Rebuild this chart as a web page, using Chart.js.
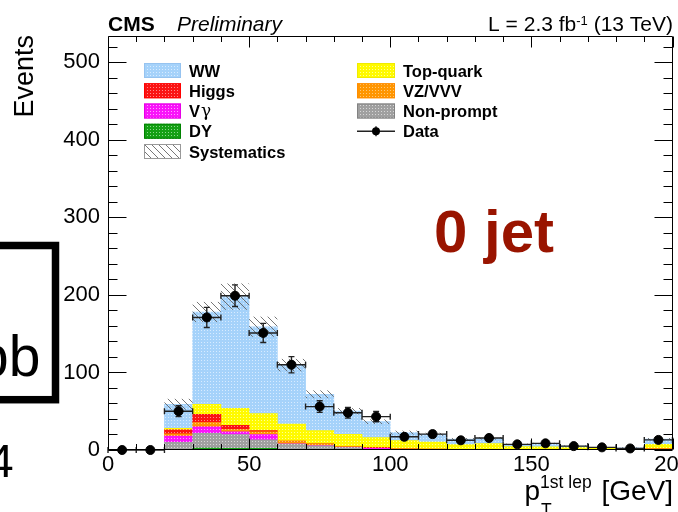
<!DOCTYPE html>
<html><head><meta charset="utf-8">
<script src="https://cdn.jsdelivr.net/npm/chart.js@4.4.0/dist/chart.umd.min.js"></script>
<style>html,body{margin:0;padding:0;background:#fff;} #c{display:block;}</style>
</head><body>
<canvas id="c" width="678" height="512"></canvas>
<script>
// ---------------- data ----------------
const binLow     = [0,10,20,30,40,50,60,70,80,90,100,110,120,130,140,150,160,170,180,190];
const binCenters = [5,15,25,35,45,55,65,75,85,95,105,115,125,135,145,155,165,175,185,195];
const binWidth = 10;
const dyValues     = [0,0,1,2.5,2,2,0.5,0.3,0.2,0.2,0.1,0.1,0,0,0,0,0,0,0,0];
const nonPrompt    = [0,0,9,19,18,11,7,5,3,0.8,0.5,0.4,0.3,0.2,0.2,0.1,0.1,0.1,0.1,0.3];
const vgValues     = [0,0,8,8.5,3.5,7,0.5,0.3,0.3,1,0.3,0.2,0.1,0.1,0.1,0.1,0,0,0,0.5];
const vzValues     = [0,0,3,5.5,3,3.5,3,2,1,0.5,0.3,0.3,0.2,0.2,0.1,0.1,0.1,0.1,0.1,0.3];
const higgsValues  = [0,0,5,10.5,5.3,1.5,0.5,0.3,0.2,1,0.2,0.2,0.1,0.1,0.1,0.1,0.1,0,0,0.5];
const topValues    = [0,0,2,13,22,22,22,17,15.4,12.5,10.6,9,6.3,7.8,3.8,3.6,2.7,2,1.7,5.7];
const wwValues     = [0,0,31,119,144,112,76,47,30,20.5,10.5,10,7,6.5,3,4.3,2.2,1,1,6.7];
const dataValues   = [0,0,50,171,199,151,110,56,48,43,17,20.5,12.5,15.5,7.3,8.6,5,3.4,2,13];
const dataErrors   = [0,0,7,13,14,12.3,10.5,7.5,6.9,6.6,4.1,4.5,3.5,3.9,2.7,2.9,2.2,1.8,1.4,3.6];
const systErrors   = [0,0,7,13,17,13,8,5,4,3,2.5,2,1.5,1.5,1,1,0.7,0.5,0.5,1.5];
const xTickStep = 50, xMin = 0, xMax = 200;
const yTickStep = 100, yMin = 0, yMax = 534;

// ---------------- styles ----------------
const FONT = '"Liberation Sans", Arial, Helvetica, sans-serif';
const canvas = document.getElementById('c');
const mainCtx = canvas.getContext('2d');
function dots(base, dot) {
  const c = document.createElement('canvas'); c.width = 3; c.height = 3;
  const g = c.getContext('2d'); g.fillStyle = base; g.fillRect(0,0,3,3);
  g.fillStyle = dot; g.fillRect(0,0,1,1);
  return mainCtx.createPattern(c, 'repeat');
}
function hatchPattern(color, s) {
  const c = document.createElement('canvas'); c.width = s; c.height = s;
  const g = c.getContext('2d'); g.strokeStyle = color; g.lineWidth = 1;
  g.beginPath();
  g.moveTo(-1,-1); g.lineTo(s+1,s+1);
  g.moveTo(-1,s-1); g.lineTo(1,s+1);
  g.moveTo(s-1,-1); g.lineTo(s+1,1);
  g.stroke();
  return mainCtx.createPattern(c, 'repeat');
}
const sty = {
  ww:    {fill: dots('rgb(165,210,250)', 'rgb(215,235,255)'), line: 'rgb(150,195,240)'},
  top:   {fill: dots('rgb(255,250,0)',   'rgb(255,255,150)'), line: 'rgb(240,235,0)'},
  higgs: {fill: dots('rgb(250,20,20)',   'rgb(255,140,140)'), line: 'rgb(255,0,0)'},
  vz:    {fill: dots('rgb(255,150,0)',   'rgb(255,200,120)'), line: 'rgb(255,140,0)'},
  vg:    {fill: dots('rgb(250,20,250)',  'rgb(255,160,255)'), line: 'rgb(230,0,230)'},
  np:    {fill: dots('rgb(160,160,160)', 'rgb(215,215,215)'), line: 'rgb(130,130,130)'},
  dy:    {fill: dots('rgb(20,160,20)',   'rgb(140,215,140)'), line: 'rgb(0,130,0)'}
};
const hatch = hatchPattern('rgba(95,95,95,0.85)', 7);

function barSet(label, values, s) {
  return {type: 'bar', label, order: 1,
    data: values.map((v, i) => ({x: binCenters[i], y: v})),
    backgroundColor: s.fill, borderWidth: 0,
    barPercentage: 1, categoryPercentage: 1};
}
const totals = binCenters.map((_, i) =>
  dyValues[i] + nonPrompt[i] + vgValues[i] + vzValues[i] + higgsValues[i] + topValues[i] + wwValues[i]);

const overlay = {
  id: 'overlay',
  beforeDatasetDraw(chart, args) {
    if (args.meta.type !== 'scatter') return;
    const {ctx, scales: {x, y}, chartArea: a} = chart;
    ctx.save();
    ctx.beginPath(); ctx.rect(a.left, a.top, a.right - a.left, a.bottom - a.top); ctx.clip();
    ctx.fillStyle = hatch;
    for (let i = 0; i < binCenters.length; i++) {
      if (!systErrors[i]) continue;
      const x0 = x.getPixelForValue(binLow[i]), x1 = x.getPixelForValue(binLow[i] + binWidth);
      const y0 = y.getPixelForValue(totals[i] + systErrors[i]);
      const y1 = y.getPixelForValue(Math.max(0, totals[i] - systErrors[i]));
      ctx.fillRect(x0, y0, x1 - x0, y1 - y0);
    }
    ctx.restore();
    // data error bars
    ctx.save();
    ctx.strokeStyle = '#222'; ctx.lineWidth = 1.4;
    ctx.beginPath();
    for (let i = 0; i < binCenters.length; i++) {
      const xc = x.getPixelForValue(binCenters[i]);
      const x0 = x.getPixelForValue(binLow[i]), x1 = x.getPixelForValue(binLow[i] + binWidth);
      const yc = y.getPixelForValue(dataValues[i]);
      ctx.moveTo(x0, yc); ctx.lineTo(x1, yc);
      ctx.moveTo(x0, yc - 3); ctx.lineTo(x0, yc + 3);
      ctx.moveTo(x1, yc - 3); ctx.lineTo(x1, yc + 3);
      if (dataErrors[i] > 0) {
        const yt = y.getPixelForValue(dataValues[i] + dataErrors[i]);
        const yb = y.getPixelForValue(dataValues[i] - dataErrors[i]);
        ctx.moveTo(xc, yt); ctx.lineTo(xc, yb);
        ctx.moveTo(xc - 3, yt); ctx.lineTo(xc + 3, yt);
        ctx.moveTo(xc - 3, yb); ctx.lineTo(xc + 3, yb);
      }
    }
    ctx.stroke();
    ctx.restore();
  },
  afterDraw(chart) {
    const {ctx, scales: {x, y}, chartArea: a} = chart;
    const L = Math.round(a.left) + 0.5, R = Math.round(a.right) - 0.5;
    const T = Math.round(a.top) + 0.5, B = Math.round(a.bottom) - 0.5;
    ctx.save();
    // frame + ticks
    ctx.strokeStyle = '#000'; ctx.lineWidth = 1;
    ctx.beginPath();
    ctx.rect(L, T, R - L, B - T);
    for (let v = yMin; v <= yMax; v += 20) {
      const py = Math.round(y.getPixelForValue(v)) + 0.5;
      const len = (v % yTickStep === 0) ? 18 : 9;
      ctx.moveTo(L, py); ctx.lineTo(L + len, py);
      ctx.moveTo(R, py); ctx.lineTo(R - len, py);
    }
    for (let v = xMin; v <= xMax; v += 10) {
      const px = Math.round(x.getPixelForValue(v)) + 0.5;
      const len = (v % xTickStep === 0) ? 11 : 5.5;
      ctx.moveTo(px, B); ctx.lineTo(px, B - len);
      ctx.moveTo(px, T); ctx.lineTo(px, T + len);
    }
    ctx.stroke();

    // header texts
    ctx.fillStyle = '#000';
    ctx.textBaseline = 'alphabetic';
    ctx.textAlign = 'left';
    ctx.font = 'bold 21px ' + FONT;
    ctx.fillText('CMS', 108, 31);
    ctx.font = 'italic 21px ' + FONT;
    ctx.fillText('Preliminary', 177, 31);
    ctx.font = '21px ' + FONT;
    const p1 = 'L = 2.3 fb', p2 = ' (13 TeV)';
    const p2w = ctx.measureText(p2).width, p1w = ctx.measureText(p1).width;
    ctx.font = '13px ' + FONT;
    const sw = ctx.measureText('-1').width;
    const endX = 673;
    ctx.fillText('-1', endX - p2w - sw, 25);
    ctx.font = '21px ' + FONT;
    ctx.fillText(p1, endX - p2w - sw - p1w, 31);
    ctx.fillText(p2, endX - p2w, 31);

    // Y title
    ctx.save();
    ctx.translate(33, 35); ctx.rotate(-Math.PI / 2);
    ctx.textAlign = 'right';
    ctx.font = '27px ' + FONT;
    ctx.fillText('Events', 0, 0);
    ctx.restore();

    // X title
    ctx.textAlign = 'left';
    ctx.font = '28px ' + FONT;
    const gev = ' [GeV]';
    const gw = ctx.measureText(gev).width;
    ctx.font = '17.5px ' + FONT;
    const supw = ctx.measureText('1st lep').width;
    const supX = 673 - gw - supw - 2;
    ctx.fillText('1st lep', supX, 488);
    ctx.fillText('T', supX + 1, 516);
    ctx.font = '28px ' + FONT;
    const pw = ctx.measureText('p').width;
    ctx.fillText('p', supX - pw, 500);
    ctx.fillText(gev, 673 - gw, 500);

    // 0 jet
    ctx.fillStyle = '#991400';
    ctx.font = 'bold 60px ' + FONT;
    ctx.fillText('0 jet', 434, 252);

    // legend
    const rowY0 = 70.5, rowStep = 20.25;
    const left = [
      ['WW', sty.ww], ['Higgs', sty.higgs], ['V', sty.vg, '\u03b3'], ['DY', sty.dy], ['Systematics', 'hatch']
    ];
    const right = [
      ['Top-quark', sty.top], ['VZ/VVV', sty.vz], ['Non-prompt', sty.np], ['Data', 'data']
    ];
    function entry(e, bx, bw, tx, cy) {
      const [label, s, extra] = e;
      if (s === 'data') {
        ctx.strokeStyle = '#222'; ctx.lineWidth = 1.4;
        ctx.beginPath();
        ctx.moveTo(bx, cy); ctx.lineTo(bx + bw, cy);
        ctx.moveTo(bx + bw / 2, cy - 5); ctx.lineTo(bx + bw / 2, cy + 5);
        ctx.stroke();
        ctx.fillStyle = '#000';
        ctx.beginPath(); ctx.arc(bx + bw / 2, cy, 4, 0, Math.PI * 2); ctx.fill();
      } else if (s === 'hatch') {
        ctx.fillStyle = '#fff'; ctx.fillRect(bx, cy - 7.5, bw, 15);
        ctx.fillStyle = hatch; ctx.fillRect(bx, cy - 7.5, bw, 15);
        ctx.strokeStyle = '#999'; ctx.lineWidth = 1;
        ctx.strokeRect(bx + 0.5, cy - 7, bw - 1, 14);
      } else {
        ctx.fillStyle = s.fill; ctx.fillRect(bx, cy - 7.5, bw, 15);
        ctx.strokeStyle = s.line; ctx.lineWidth = 1;
        ctx.strokeRect(bx + 0.5, cy - 7, bw - 1, 14);
      }
      ctx.fillStyle = '#000';
      ctx.font = 'bold 16.5px ' + FONT;
      ctx.fillText(label, tx, cy + 6);
      if (extra) {
        const w = ctx.measureText(label).width;
        ctx.font = '17px "DejaVu Serif", "Liberation Serif", serif';
        ctx.fillText(extra, tx + w + 1, cy + 5);
      }
    }
    left.forEach((e, i) => entry(e, 144, 37, 189, rowY0 + i * rowStep));
    right.forEach((e, i) => entry(e, 357, 38, 403, rowY0 + i * rowStep));

    // overlapping fragment of another figure on the left
    ctx.fillStyle = '#fff';
    ctx.fillRect(-10, 242, 69, 161);
    ctx.strokeStyle = '#000'; ctx.lineWidth = 7.5;
    ctx.strokeRect(-20, 245.5, 75.5, 154.2);
    ctx.fillStyle = '#000';
    ctx.font = '57px ' + FONT;
    ctx.fillText('pb', -23, 376);
    ctx.font = '47px ' + FONT;
    ctx.fillText('4', -12.5, 477);
    ctx.restore();
  }
};

const chart = new Chart(canvas, {
  type: 'bar',
  data: {
    datasets: [
      barSet('DY', dyValues, sty.dy),
      barSet('Non-prompt', nonPrompt, sty.np),
      barSet('V\u03b3', vgValues, sty.vg),
      barSet('VZ/VVV', vzValues, sty.vz),
      barSet('Higgs', higgsValues, sty.higgs),
      barSet('Top-quark', topValues, sty.top),
      barSet('WW', wwValues, sty.ww),
      {type: 'scatter', label: 'Data', order: 0, stack: 'data', clip: false,
       data: dataValues.map((v, i) => ({x: binCenters[i], y: v})),
       backgroundColor: '#000', borderColor: '#000', pointRadius: 4.5, pointHoverRadius: 4.5, showLine: false}
    ]
  },
  options: {
    responsive: false, animation: false, devicePixelRatio: 1,
    layout: {padding: {top: 36, right: 5, left: 0, bottom: 0}},
    plugins: {legend: {display: false}, tooltip: {enabled: false}, title: {display: false}},
    scales: {
      x: {type: 'linear', stacked: true, min: xMin, max: xMax, offset: false,
          grid: {display: false, drawTicks: false, offset: false}, border: {display: false},
          ticks: {stepSize: xTickStep, padding: 2, color: '#000', maxRotation: 0,
                  font: {family: FONT, size: 22}},
          afterFit(s) { s.height = 62; s.paddingLeft = 0; s.paddingRight = 0; }},
      y: {type: 'linear', stacked: true, min: yMin, max: yMax,
          grid: {display: false, drawTicks: false}, border: {display: false},
          ticks: {stepSize: yTickStep, includeBounds: false, padding: 8, color: '#000',
                  font: {family: FONT, size: 22}},
          afterFit(s) { s.width = 108; s.paddingTop = 0; s.paddingBottom = 0; }}
    }
  },
  plugins: [overlay]
});
</script>
</body></html>
